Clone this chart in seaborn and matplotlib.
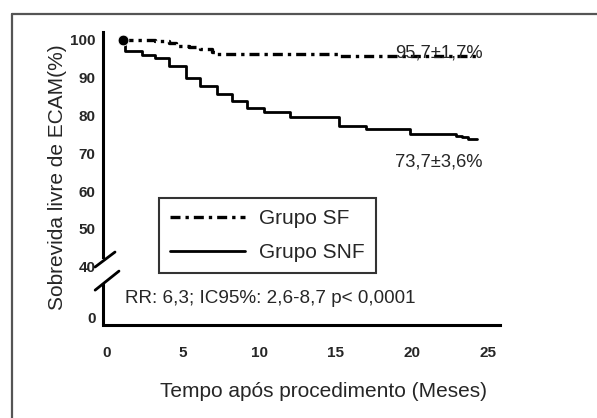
import matplotlib
matplotlib.use("Agg")
import matplotlib.pyplot as plt
from matplotlib.lines import Line2D
import seaborn as sns
import pandas as pd

# dados (meses, sobrevida %)
snf_meses = [1.05, 1.2, 2.3, 3.15, 4.1, 5.2, 6.1, 7.2, 8.2, 9.2, 10.3, 12.0,
             15.2, 17.0, 19.9, 22.9, 23.3, 23.7, 24.0, 24.3]
snf_surv = [100, 97.1, 96.0, 95.3, 93.1, 90.0, 87.8, 85.6, 83.9, 82.1, 81.0, 79.6,
            77.2, 76.4, 75.0, 74.6, 74.2, 73.9, 73.7, 73.7]
sf_meses = [1.05, 2.4, 3.15, 4.1, 4.5, 5.4, 6.1, 6.9, 7.2, 15.3, 24.3]
sf_surv = [100, 99.9, 99.6, 99.2, 98.5, 98.0, 97.6, 96.9, 96.2, 95.7, 95.7]

y_ticks = [100, 90, 80, 70, 60, 50, 40, 26.7]
y_labels = ["100", "90", "80", "70", "60", "50", "40", "0"]
x_ticks = [0, 5, 10, 15, 20, 25]

df_sf = pd.DataFrame({"meses": sf_meses, "surv": sf_surv})
df_snf = pd.DataFrame({"meses": snf_meses, "surv": snf_surv})

sns.set_style("white")
plt.rcParams["font.family"] = ["Liberation Sans", "DejaVu Sans"]

fig = plt.figure(figsize=(5.97, 4.18), dpi=100)
ax = fig.add_axes([0.172, 0.2225, 0.6655, 0.701])

sns.lineplot(data=df_sf, x="meses", y="surv", ax=ax, color="black", lw=2.4,
             drawstyle="steps-post", linestyle=(0, (3.0, 1.5, 1.0, 1.5)),
             label="Grupo SF", estimator=None)
sns.lineplot(data=df_snf, x="meses", y="surv", ax=ax, color="black", lw=2.0,
             drawstyle="steps-post", label="Grupo SNF", estimator=None)
sns.scatterplot(x=[sf_meses[0]], y=[sf_surv[0]], ax=ax, color="black", s=60,
                zorder=5, legend=False)

ax.set_xlim(-0.28, 25.8)
ax.set_ylim(24.6, 102.1)
ax.set_xticks(x_ticks)
ax.set_yticks(y_ticks)
ax.set_yticklabels(y_labels)
ax.tick_params(axis="x", length=0, pad=15, labelsize=11)
ax.tick_params(axis="y", length=0, pad=5, labelsize=11)
for t in ax.get_xticklabels() + ax.get_yticklabels():
    t.set_fontweight("bold")

for s in ["top", "right"]:
    ax.spines[s].set_visible(False)
ax.spines["left"].set_bounds(42.6, 102.1)
ax.spines["left"].set_linewidth(2.2)
ax.spines["bottom"].set_linewidth(2.2)
ax.spines["left"].set_color("black")
ax.spines["bottom"].set_color("black")
ax.axvline(-0.28, ymin=0, ymax=0.14, color="black", lw=2.2, clip_on=False)

# marcas de quebra do eixo
ax.plot([-0.019, 0.031], [0.198, 0.249], transform=ax.transAxes, color="black",
        lw=2.0, clip_on=False)
ax.plot([-0.019, 0.041], [0.119, 0.184], transform=ax.transAxes, color="black",
        lw=2.0, clip_on=False)

ax.set_xlabel("Tempo após procedimento (Meses)", fontsize=15)
ax.set_ylabel("Sobrevida livre de ECAM(%)", fontsize=15)
ax.xaxis.set_label_coords(0.555, -0.195)
ax.yaxis.set_label_coords(-0.09, 0.505)

ax.text(18.9, 96.6, "95,7±1,7%", fontsize=13.2, va="center", ha="left")
ax.text(18.9, 67.7, "73,7±3,6%", fontsize=13.2, va="center", ha="left")
ax.text(1.2, 31.7, "RR: 6,3; IC95%: 2,6-8,7 p< 0,0001", fontsize=13.6,
        va="center", ha="left")

leg = ax.legend(loc="upper left", bbox_to_anchor=(159 / 597, 1 - 198 / 418),
                bbox_transform=fig.transFigure, fontsize=15, frameon=True,
                fancybox=False, edgecolor="black", handlelength=3.6,
                handletextpad=0.65, labelspacing=0.7, borderpad=0.55,
                borderaxespad=0)
leg.get_frame().set_linewidth(1.5)

# moldura da figura
fig.add_artist(Line2D([12 / 597, 1.0], [1 - 14 / 418, 1 - 14 / 418],
                      transform=fig.transFigure, color="#555555", lw=1.6))
fig.add_artist(Line2D([12 / 597, 12 / 597], [0, 1 - 14 / 418],
                      transform=fig.transFigure, color="#555555", lw=1.6))

fig.savefig("out.png", dpi=100)
